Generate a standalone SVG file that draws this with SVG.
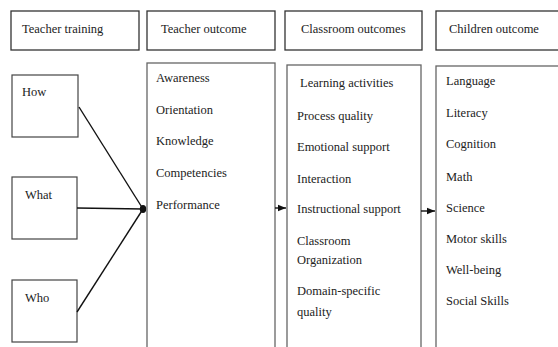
<svg xmlns="http://www.w3.org/2000/svg" width="558" height="347" viewBox="0 0 558 347">
<defs>
<style>
.hdr{fill:#fff;stroke:#333;stroke-width:1.3}
.box{fill:#fff;stroke:#666;stroke-width:1.3}
.sm{fill:#fff;stroke:#444;stroke-width:1.2}
text{font-family:'Liberation Serif','Times New Roman','DejaVu Serif',serif;font-size:12.5px;fill:#222}
.con{stroke:#111;stroke-width:1.4;fill:none}
</style>
<marker id="ah" viewBox="0 0 10 10" refX="10" refY="5" markerWidth="8" markerHeight="8" orient="auto" markerUnits="userSpaceOnUse">
<path d="M0,1 L10,5 L0,9 Z" fill="#111"/>
</marker>
</defs>
<rect width="558" height="347" fill="#fff"/>
<g font-family="'Liberation Serif', 'Times New Roman', serif">
<g id="hdr-training"><rect class="hdr" x="11" y="11" width="128" height="39"/><text x="22" y="33">Teacher training</text></g>
<g id="hdr-teacher"><rect class="hdr" x="147" y="11" width="128" height="39"/><text x="161" y="33">Teacher outcome</text></g>
<g id="hdr-classroom"><rect class="hdr" x="285" y="11" width="137" height="39"/><text x="301" y="33">Classroom outcomes</text></g>
<g id="hdr-children"><rect class="hdr" x="436" y="11" width="140" height="39"/><text x="449" y="33">Children outcome</text></g>
<g id="how"><rect class="sm" x="12" y="75" width="66" height="62"/><text x="22" y="96">How</text></g>
<g id="what"><rect class="sm" x="12" y="177" width="65" height="62"/><text x="25" y="199">What</text></g>
<g id="who"><rect class="sm" x="12" y="280" width="65" height="62"/><text x="25" y="302">Who</text></g>
<g id="teacher-outcome"><rect class="box" x="147" y="63" width="128" height="300"/>
<text x="156" y="82">Awareness</text>
<text x="156" y="113.5">Orientation</text>
<text x="156" y="145">Knowledge</text>
<text x="156" y="177">Competencies</text>
<text x="156" y="208.5">Performance</text>
</g>
<g id="classroom-outcomes"><rect class="box" x="287" y="65" width="134" height="300"/>
<text x="300" y="87">Learning activities</text>
<text x="297" y="120">Process quality</text>
<text x="297" y="151">Emotional support</text>
<text x="297" y="183">Interaction</text>
<text x="297" y="213">Instructional support</text>
<text x="297" y="245">Classroom</text>
<text x="297" y="264">Organization</text>
<text x="297" y="295">Domain-specific</text>
<text x="297" y="316">quality</text>
</g>
<g id="children-outcome"><rect class="box" x="436" y="66" width="140" height="300"/>
<text x="446" y="85">Language</text>
<text x="446" y="117">Literacy</text>
<text x="446" y="148">Cognition</text>
<text x="446" y="181">Math</text>
<text x="446" y="212">Science</text>
<text x="446" y="243">Motor skills</text>
<text x="446" y="274">Well-being</text>
<text x="446" y="305">Social Skills</text>
</g>
</g>
<g id="connectors">
<line class="con" x1="79" y1="107" x2="143" y2="209"/>
<line class="con" x1="77" y1="208" x2="143" y2="209"/>
<line class="con" x1="77" y1="312" x2="143" y2="209"/>
<ellipse cx="143" cy="209" rx="3.2" ry="4" fill="#111"/>
<line class="con" x1="275" y1="208" x2="286" y2="208" marker-end="url(#ah)"/>
<line class="con" x1="421" y1="211" x2="435" y2="211" marker-end="url(#ah)"/>
</g>
</svg>
